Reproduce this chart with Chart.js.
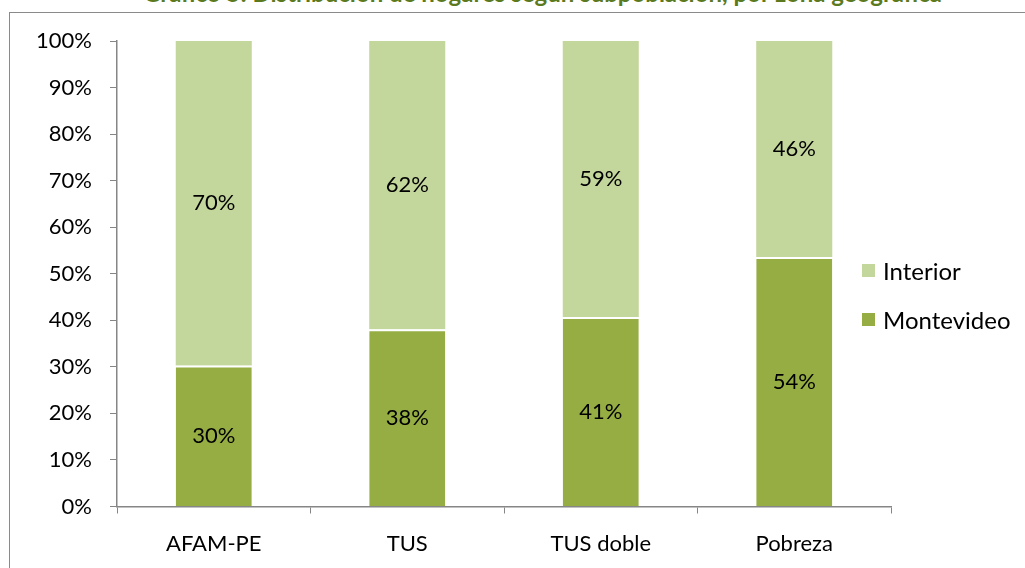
<!DOCTYPE html>
<html lang="es">
<head>
<meta charset="utf-8">
<script src="https://cdn.jsdelivr.net/npm/chart.js@4/dist/chart.umd.min.js"></script>
<style>
  html, body { margin: 0; padding: 0; background: #fff; overflow: hidden; }
  body { width: 1025px; height: 568px; position: relative; font-family: Lato, 'Noto Sans', sans-serif; }
  #title { position: absolute; left: 0; width: 1085px; top: -19px; text-align: center; font-weight: bold; font-size: 24px; line-height: 24px; color: #5b7a20; white-space: nowrap; }
  #frame { position: absolute; left: 9px; top: 12px; width: 1100px; height: 700px; border: 1.5px solid #8a8a8a; }
  #wrap { position: absolute; left: 0; top: 0; width: 1025px; height: 568px; }
  #legend { position: absolute; left: 862px; top: 255px; font-size: 24px; color: #000; }
  #legend div { display: flex; align-items: center; height: 30px; margin-bottom: 19px; }
  #legend span.box { width: 13px; height: 13px; margin-right: 8px; display: inline-block; }
</style>
</head>
<body>
<div id="title">Gráfico 5: Distribución de hogares según subpoblación, por zona geográfica</div>
<div id="frame"></div>
<div id="wrap"><canvas id="chart"></canvas></div>
<div id="legend"></div>
<script>
(function () {
    'use strict';

    const categories = ['AFAM-PE', 'TUS', 'TUS doble', 'Pobreza'];
    const montevideo = [30.3, 38.1, 40.7, 53.6];
    const interior = [69.7, 61.9, 59.3, 46.4];
    const montevideoLabels = ['30%', '38%', '41%', '54%'];
    const interiorLabels = ['70%', '62%', '59%', '46%'];

    const colorMvd = '#95ad43';
    const colorInt = '#c3d69b';
    const axisColor = '#868686';
    const font = { family: 'Lato, "Noto Sans", sans-serif', size: 22 };

    // etiquetas dentro de cada segmento
    const barLabels = {
        id: 'barLabels',
        afterDatasetsDraw(chart) {
            const ctx = chart.ctx;
            ctx.save();
            ctx.font = `${font.size}px ${font.family}`;
            ctx.fillStyle = '#000';
            ctx.textAlign = 'center';
            ctx.textBaseline = 'middle';
            chart.data.datasets.forEach((ds, i) => {
                chart.getDatasetMeta(i).data.forEach((bar, j) => {
                    const p = bar.getCenterPoint();
                    ctx.fillText(ds.valueLabels[j], p.x, p.y);
                });
            });
            ctx.restore();
        },
    };

    const legendEl = document.getElementById('legend');
    [['Interior', colorInt], ['Montevideo', colorMvd]].forEach(([name, c]) => {
        const row = document.createElement('div');
        row.innerHTML = `<span class="box" style="background:${c}"></span>${name}`;
        legendEl.appendChild(row);
    });

    new Chart(document.getElementById('chart'), {
        type: 'bar',
        data: {
            labels: categories,
            datasets: [
                {
                    label: 'Montevideo',
                    data: montevideo,
                    valueLabels: montevideoLabels,
                    backgroundColor: colorMvd,
                    borderColor: '#ffffff',
                    borderWidth: { top: 2, left: 0, right: 0, bottom: 0 },
                    borderSkipped: false,
                    categoryPercentage: 1,
                    barPercentage: 0.393,
                },
                {
                    label: 'Interior',
                    data: interior,
                    valueLabels: interiorLabels,
                    backgroundColor: colorInt,
                    borderWidth: 0,
                    categoryPercentage: 1,
                    barPercentage: 0.393,
                },
            ],
        },
        options: {
            responsive: true,
            maintainAspectRatio: false,
            animation: false,
            layout: { padding: { left: 0, top: 41, right: 134, bottom: 0 } },
            plugins: {
                legend: { display: false },
                tooltip: { enabled: false },
            },
            scales: {
                x: {
                    stacked: true,
                    grid: { drawOnChartArea: false, tickLength: 7, color: axisColor, offset: true },
                    border: { color: axisColor, width: 1.5 },
                    ticks: { color: '#000', font, padding: 17 },
                    afterFit: (s) => { s.height = 61.5; },
                },
                y: {
                    stacked: true,
                    min: 0,
                    max: 100,
                    grid: { drawOnChartArea: false, tickLength: 7, color: axisColor },
                    border: { color: axisColor, width: 1.5 },
                    ticks: {
                        stepSize: 10,
                        color: '#000',
                        font,
                        padding: 18,
                        callback: (v) => v + '%',
                    },
                    afterFit: (s) => { s.width = 117; },
                },
            },
        },
        plugins: [barLabels],
    });
})();
</script>
</body>
</html>
